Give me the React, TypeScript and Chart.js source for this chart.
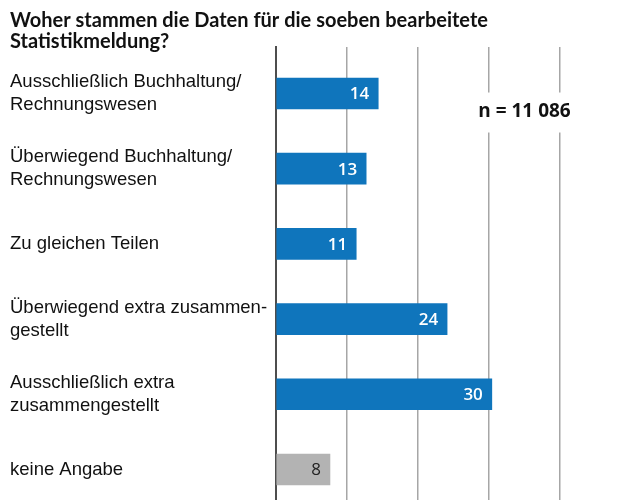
import React, { useEffect, useRef } from "react";
import { Chart, registerables } from "chart.js";

Chart.register(...registerables);

const titleLines = [
  "Woher stammen die Daten für die soeben bearbeitete",
  "Statistikmeldung?",
];

const categories: string[][] = [
  ["Ausschließlich Buchhaltung/", "Rechnungswesen"],
  ["Überwiegend Buchhaltung/", "Rechnungswesen"],
  ["Zu gleichen Teilen"],
  ["Überwiegend extra zusammen-", "gestellt"],
  ["Ausschließlich extra", "zusammengestellt"],
  ["keine Angabe"],
];

// shares in percent (labels show rounded values)
const shares = [14.4, 12.7, 11.3, 24.1, 30.4, 7.6];
const barColors = ["#0f75bc", "#0f75bc", "#0f75bc", "#0f75bc", "#0f75bc", "#b3b3b3"];
const valueTextColors = ["#ffffff", "#ffffff", "#ffffff", "#ffffff", "#ffffff", "#222222"];
const valueTextWeights = ["600", "600", "600", "600", "600", "400"];
const sampleNote = "n = 11 086";
const xTicks = [0, 10, 20, 30, 40];

const valueLabelPlugin = {
  id: "valueLabels",
  afterDatasetsDraw(chart: any) {
    const ctx = chart.ctx;
    const meta = chart.getDatasetMeta(0);
    ctx.save();
    ctx.textAlign = "right";
    ctx.textBaseline = "middle";
    meta.data.forEach((el: any, i: number) => {
      ctx.font = `${valueTextWeights[i]} 17px 'Open Sans'`;
      ctx.fillStyle = valueTextColors[i];
      ctx.fillText(String(Math.round(shares[i])), el.x - 9, el.y + 1);
    });
    ctx.restore();
  },
};

const notePlugin = {
  id: "sampleNote",
  afterDatasetsDraw(chart: any) {
    const ctx = chart.ctx;
    const xs = chart.scales.x;
    const ys = chart.scales.y;
    const cx = xs.getPixelForValue(35);
    const cy = ys.getPixelForValue(0.24);
    ctx.save();
    ctx.fillStyle = "#ffffff";
    ctx.fillRect(cx - 58, cy - 19, 116, 40);
    ctx.font = "bold 19px 'Open Sans'";
    ctx.fillStyle = "#111111";
    ctx.textAlign = "center";
    ctx.textBaseline = "middle";
    ctx.fillText(sampleNote, cx, cy);
    ctx.restore();
  },
};

export default function App() {
  const ref = useRef<HTMLCanvasElement | null>(null);

  useEffect(() => {
    if (!ref.current) return;
    const chart = new Chart(ref.current, {
      type: "bar",
      data: {
        datasets: [
          {
            data: shares.map((v, i) => ({ x: v, y: i })),
            backgroundColor: barColors,
            borderWidth: 0,
            barThickness: 31,
          },
        ],
      },
      options: {
        indexAxis: "y",
        responsive: false,
        animation: false,
        layout: { padding: { left: 10, right: 0, top: 0, bottom: 0 } },
        plugins: {
          legend: { display: false },
          tooltip: { enabled: false },
          title: {
            display: true,
            text: titleLines,
            align: "start",
            color: "#111111",
            font: { family: "Lato", weight: "bold", size: 20, lineHeight: 1.05 },
            padding: { top: 10, bottom: -5 },
          },
        },
        scales: {
          x: {
            type: "linear",
            min: 0,
            max: 49.3,
            offset: false,
            afterBuildTicks: (scale: any) => {
              scale.ticks = xTicks.map((v) => ({ value: v }));
            },
            ticks: { display: false, includeBounds: false },
            grid: {
              drawTicks: false,
              offset: false,
              lineWidth: 1.5,
              color: (c: any) => (c.tick && c.tick.value === 0 ? "rgba(0,0,0,0)" : "#a6a6a6"),
            },
            border: { display: false },
          },
          y: {
            type: "linear",
            reverse: true,
            offset: false,
            bounds: "data",
            min: -0.618,
            max: 5.406,
            afterBuildTicks: (scale: any) => {
              scale.ticks = categories.map((_, i) => ({ value: i }));
            },
            afterFit: (scale: any) => {
              scale.width = 266;
              scale.paddingTop = 0;
              scale.paddingBottom = 0;
            },
            ticks: {
              crossAlign: "far",
              color: "#111111",
              font: { family: "'Liberation Sans', Arial, sans-serif", size: 18.5, lineHeight: 1.24 },
              callback: (v: any) => categories[v as number] ?? "",
            },
            grid: { display: false, drawTicks: false, offset: false },
            border: { display: true, color: "#4d4d4d", width: 2 },
          },
        },
      },
      plugins: [valueLabelPlugin, notePlugin],
    } as any);
    return () => chart.destroy();
  }, []);

  return (
    <div style={{ position: "absolute", left: 0, top: 0, width: 626, height: 500, background: "#fff" }}>
      <canvas ref={ref} width={626} height={500} />
    </div>
  );
}
